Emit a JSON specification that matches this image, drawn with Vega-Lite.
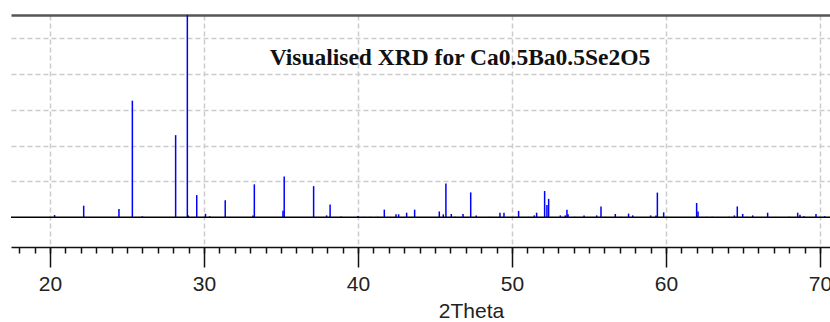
{
  "$schema": "https://vega.github.io/schema/vega-lite/v6.json",
  "width": 819,
  "height": 232,
  "autosize": {"type": "none"},
  "padding": {"left": 11, "top": 15, "right": 0, "bottom": 75},
  "background": "white",
  "config": {"view": {"stroke": null}},
  "datasets": {
    "peaks": [
      {"two_theta": 20.3, "intensity": 1.3},
      {"two_theta": 22.19, "intensity": 6.5},
      {"two_theta": 24.48, "intensity": 4.6},
      {"two_theta": 25.35, "intensity": 65.0},
      {"two_theta": 26.0, "intensity": 0.6},
      {"two_theta": 28.16, "intensity": 45.8},
      {"two_theta": 28.92, "intensity": 112.7},
      {"two_theta": 28.98, "intensity": 1.1},
      {"two_theta": 29.53, "intensity": 12.4},
      {"two_theta": 30.1, "intensity": 2.0},
      {"two_theta": 30.37, "intensity": 0.6},
      {"two_theta": 31.38, "intensity": 9.6},
      {"two_theta": 33.18, "intensity": 1.1},
      {"two_theta": 33.27, "intensity": 18.4},
      {"two_theta": 35.13, "intensity": 3.7},
      {"two_theta": 35.21, "intensity": 22.8},
      {"two_theta": 37.12, "intensity": 17.4},
      {"two_theta": 37.96, "intensity": 1.1},
      {"two_theta": 38.19, "intensity": 7.1},
      {"two_theta": 38.9, "intensity": 0.5},
      {"two_theta": 40.0, "intensity": 0.8},
      {"two_theta": 40.41, "intensity": 0.3},
      {"two_theta": 40.8, "intensity": 0.3},
      {"two_theta": 41.28, "intensity": 0.3},
      {"two_theta": 41.71, "intensity": 4.3},
      {"two_theta": 42.47, "intensity": 1.7},
      {"two_theta": 42.64, "intensity": 1.7},
      {"two_theta": 43.16, "intensity": 2.6},
      {"two_theta": 43.68, "intensity": 4.3},
      {"two_theta": 45.28, "intensity": 3.3},
      {"two_theta": 45.54, "intensity": 1.7},
      {"two_theta": 45.71, "intensity": 18.9},
      {"two_theta": 46.06, "intensity": 1.9},
      {"two_theta": 46.3, "intensity": 0.3},
      {"two_theta": 46.82, "intensity": 1.9},
      {"two_theta": 47.32, "intensity": 13.9},
      {"two_theta": 47.68, "intensity": 1.1},
      {"two_theta": 48.55, "intensity": 0.3},
      {"two_theta": 49.22, "intensity": 2.6},
      {"two_theta": 49.48, "intensity": 2.6},
      {"two_theta": 50.43, "intensity": 3.6},
      {"two_theta": 51.06, "intensity": 0.3},
      {"two_theta": 51.45, "intensity": 1.1},
      {"two_theta": 51.6, "intensity": 2.6},
      {"two_theta": 52.12, "intensity": 14.7},
      {"two_theta": 52.27, "intensity": 6.9},
      {"two_theta": 52.38, "intensity": 10.3},
      {"two_theta": 53.14, "intensity": 1.1},
      {"two_theta": 53.46, "intensity": 1.1},
      {"two_theta": 53.57, "intensity": 4.3},
      {"two_theta": 53.64, "intensity": 1.7},
      {"two_theta": 54.07, "intensity": 0.3},
      {"two_theta": 54.68, "intensity": 1.1},
      {"two_theta": 55.5, "intensity": 1.1},
      {"two_theta": 55.78, "intensity": 6.1},
      {"two_theta": 56.06, "intensity": 0.3},
      {"two_theta": 56.71, "intensity": 1.9},
      {"two_theta": 57.06, "intensity": 0.3},
      {"two_theta": 57.57, "intensity": 2.1},
      {"two_theta": 57.84, "intensity": 1.1},
      {"two_theta": 59.0, "intensity": 1.1},
      {"two_theta": 59.35, "intensity": 1.1},
      {"two_theta": 59.44, "intensity": 13.8},
      {"two_theta": 59.85, "intensity": 2.8},
      {"two_theta": 61.99, "intensity": 8.0},
      {"two_theta": 62.08, "intensity": 3.3},
      {"two_theta": 62.64, "intensity": 0.3},
      {"two_theta": 63.0, "intensity": 0.3},
      {"two_theta": 64.07, "intensity": 0.3},
      {"two_theta": 64.44, "intensity": 1.1},
      {"two_theta": 64.63, "intensity": 6.1},
      {"two_theta": 64.98, "intensity": 1.9},
      {"two_theta": 65.24, "intensity": 0.3},
      {"two_theta": 65.63, "intensity": 1.1},
      {"two_theta": 66.6, "intensity": 2.6},
      {"two_theta": 68.0, "intensity": 0.3},
      {"two_theta": 68.55, "intensity": 2.6},
      {"two_theta": 68.7, "intensity": 1.4},
      {"two_theta": 68.96, "intensity": 0.6},
      {"two_theta": 69.74, "intensity": 1.9},
      {"two_theta": 70.3, "intensity": 0.6}
    ],
    "frame": [{"x_start": 17.47, "x_end": 70.65, "base": 0}],
    "label": [{"x": 46.62, "y": 84.8, "title": "Visualised XRD for Ca0.5Ba0.5Se2O5"}]
  },
  "resolve": {"axis": {"x": "independent"}},
  "layer": [
    {
      "data": {"name": "peaks"},
      "mark": {"type": "rule", "color": "#0000ff", "strokeWidth": 1.5},
      "encoding": {
        "x": {
          "field": "two_theta", "type": "quantitative",
          "scale": {"domain": [17.47, 70.65], "nice": false, "zero": false},
          "axis": {
            "orient": "bottom",
            "values": [20, 30, 40, 50, 60, 70],
            "tickSize": 20, "tickWidth": 1.5, "tickColor": "#111",
            "domain": true, "domainColor": "#111", "domainWidth": 1.5,
            "labelFont": "Liberation Sans", "labelFontSize": 21, "labelColor": "#222",
            "labelPadding": 6, "labelFlush": false,
            "grid": true, "gridColor": "#cccccc", "gridDash": [5, 3], "gridWidth": 1.5,
            "title": "2Theta", "titleFont": "Liberation Sans", "titleFontSize": 21,
            "titleFontWeight": "normal", "titleColor": "#222", "titlePadding": 6,
            "titleX": 460
          }
        },
        "y": {
          "field": "intensity", "type": "quantitative",
          "scale": {"domain": [-16.5, 112.7], "nice": false, "zero": false},
          "axis": {
            "values": [20, 40, 60, 80, 100],
            "grid": true, "gridColor": "#cccccc", "gridDash": [5, 3], "gridWidth": 1.5,
            "domain": false, "ticks": false, "labels": false, "title": null
          }
        },
        "y2": {"datum": 0}
      }
    },
    {
      "data": {"name": "frame"},
      "mark": {"type": "rule", "color": "#000000", "strokeWidth": 1.5},
      "encoding": {
        "x": {"field": "x_start", "type": "quantitative",
          "axis": {"orient": "top", "domain": true, "domainColor": "#555555", "domainWidth": 2.5,
                   "ticks": false, "labels": false, "grid": false, "title": null}},
        "x2": {"field": "x_end"},
        "y": {"field": "base", "type": "quantitative"}
      }
    },
    {
      "data": {"name": "label"},
      "mark": {"type": "text", "font": "Liberation Serif", "fontWeight": "bold", "fontSize": 23.5,
               "color": "#111111", "align": "center", "baseline": "alphabetic"},
      "encoding": {
        "x": {"field": "x", "type": "quantitative",
          "axis": {"orient": "bottom", "values": [18,19,20,21,22,23,24,25,26,27,28,29,30,31,32,33,34,35,36,37,38,39,40,41,42,43,44,45,46,47,48,49,50,51,52,53,54,55,56,57,58,59,60,61,62,63,64,65,66,67,68,69,70],
                   "tickSize": 6, "tickWidth": 1.5, "tickColor": "#111", "domain": false,
                   "labels": false, "grid": false, "title": null}},
        "y": {"field": "y", "type": "quantitative"},
        "text": {"field": "title"}
      }
    }
  ]
}
